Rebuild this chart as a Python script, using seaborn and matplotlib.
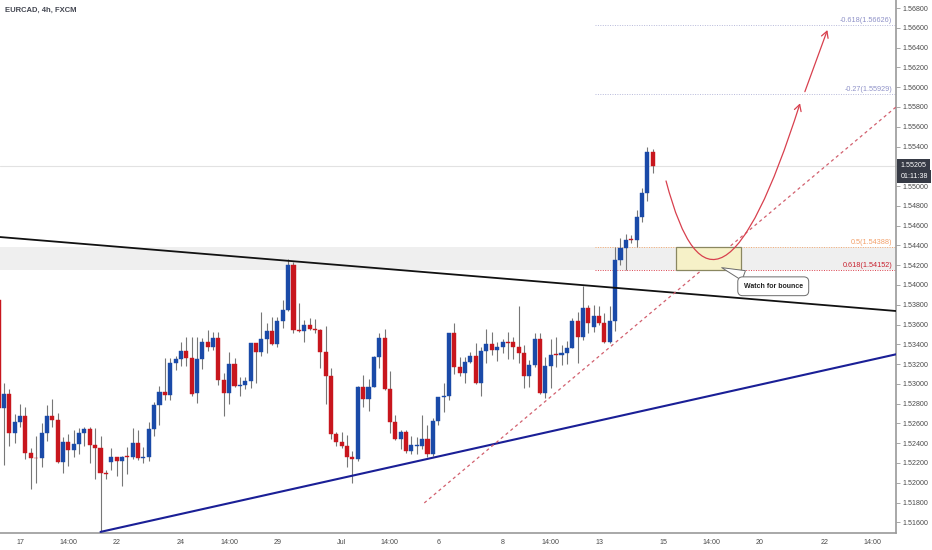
import matplotlib
matplotlib.use("Agg")
import numpy as np
import pandas as pd
import matplotlib.pyplot as plt
import seaborn as sns
from matplotlib.patches import Rectangle, FancyArrowPatch
from matplotlib.path import Path
from matplotlib.ticker import FormatStrFormatter

# --------- Velas EURCAD 4h ---------
opens = [1.53848, 1.52753, 1.52898, 1.52507, 1.52618, 1.52676, 1.52305, 1.52254, 1.52248, 1.52501,
         1.52676, 1.52635, 1.52214, 1.52413, 1.52332, 1.52390, 1.52501, 1.52547, 1.52382, 1.52349,
         1.52102, 1.52214, 1.52258, 1.52224, 1.52271, 1.52258, 1.52400, 1.52254, 1.52258, 1.52541,
         1.52784, 1.52915, 1.52885, 1.53214, 1.53249, 1.53333, 1.53259, 1.52905, 1.53249, 1.53424,
         1.53370, 1.53461, 1.53040, 1.52911, 1.53201, 1.52982, 1.52989, 1.53032, 1.53411, 1.53326,
         1.53451, 1.53538, 1.53404, 1.53636, 1.53747, 1.54202, 1.53545, 1.53538, 1.53596, 1.53552,
         1.53545, 1.53326, 1.53083, 1.52491, 1.52416, 1.52375, 1.52258, 1.52244, 1.52966, 1.52850,
         1.52972, 1.53275, 1.53467, 1.52946, 1.52618, 1.52440, 1.52514, 1.52325, 1.52375, 1.52375,
         1.52440, 1.52291, 1.52628, 1.52865, 1.52881, 1.53512, 1.53174, 1.53107, 1.53225, 1.53282,
         1.53006, 1.53336, 1.53404, 1.53343, 1.53376, 1.53427, 1.53427, 1.53376, 1.53310, 1.53080,
         1.53188, 1.53457, 1.52911, 1.53181, 1.53299, 1.53292, 1.53310, 1.53366, 1.53639, 1.53471,
         1.53764, 1.53578, 1.53687, 1.53619, 1.53427, 1.53639, 1.54253, 1.54371, 1.54465, 1.54455,
         1.54691, 1.54933, 1.55345]
highs = [1.53860, 1.53012, 1.52946, 1.52696, 1.52797, 1.52770, 1.52349, 1.52476, 1.52602, 1.52787,
         1.52844, 1.52709, 1.52466, 1.52494, 1.52534, 1.52551, 1.52561, 1.52561, 1.52551, 1.52473,
         1.52130, 1.52349, 1.52264, 1.52274, 1.52365, 1.52551, 1.52534, 1.52359, 1.52618, 1.52820,
         1.52979, 1.53259, 1.53259, 1.53282, 1.53427, 1.53471, 1.53471, 1.53471, 1.53461, 1.53545,
         1.53528, 1.53528, 1.53113, 1.53326, 1.53259, 1.53073, 1.53073, 1.53417, 1.53417, 1.53724,
         1.53619, 1.53680, 1.53680, 1.53848, 1.54260, 1.54236, 1.53821, 1.53646, 1.53663, 1.53653,
         1.53552, 1.53585, 1.53158, 1.52517, 1.52517, 1.52484, 1.52325, 1.52979, 1.53087, 1.53047,
         1.53282, 1.53512, 1.53552, 1.53134, 1.52686, 1.52534, 1.52534, 1.52473, 1.52466, 1.52686,
         1.52585, 1.52652, 1.52871, 1.53006, 1.53518, 1.53619, 1.53269, 1.53275, 1.53326, 1.53411,
         1.53376, 1.53552, 1.53522, 1.53427, 1.53451, 1.53528, 1.53471, 1.53788, 1.53393, 1.53242,
         1.53512, 1.53512, 1.53275, 1.53451, 1.53477, 1.53393, 1.53437, 1.53663, 1.53730, 1.53990,
         1.53798, 1.53798, 1.53788, 1.53714, 1.53788, 1.54387, 1.54472, 1.54516, 1.54506, 1.54758,
         1.54978, 1.55392, 1.55378]
lows = [1.52736, 1.52180, 1.52372, 1.52406, 1.52567, 1.52238, 1.51938, 1.52001, 1.52157, 1.52423,
        1.52567, 1.52197, 1.52096, 1.52170, 1.52264, 1.52291, 1.52372, 1.52203, 1.52036, 1.51503,
        1.52036, 1.52130, 1.52072, 1.51968, 1.52089, 1.52238, 1.52231, 1.52197, 1.52224, 1.52476,
        1.52585, 1.52837, 1.52837, 1.53141, 1.53181, 1.53181, 1.52880, 1.52810, 1.53148, 1.53336,
        1.53343, 1.52989, 1.52679, 1.52797, 1.52972, 1.52878, 1.52946, 1.52956, 1.53012, 1.53282,
        1.53310, 1.53393, 1.53376, 1.53562, 1.53737, 1.53512, 1.53528, 1.53427, 1.53545, 1.53512,
        1.53158, 1.52797, 1.52440, 1.52372, 1.52349, 1.52157, 1.51995, 1.52224, 1.52764, 1.52729,
        1.52966, 1.53158, 1.52938, 1.52507, 1.52433, 1.52339, 1.52298, 1.52291, 1.52291, 1.52339,
        1.52264, 1.52271, 1.52585, 1.52719, 1.52837, 1.53100, 1.53080, 1.53012, 1.53208, 1.52996,
        1.52878, 1.53208, 1.53292, 1.53235, 1.53310, 1.53249, 1.53249, 1.53214, 1.52956, 1.52972,
        1.53168, 1.52898, 1.52855, 1.52956, 1.53174, 1.53191, 1.53201, 1.53360, 1.53214, 1.53444,
        1.53512, 1.53528, 1.53596, 1.53417, 1.53411, 1.53538, 1.54202, 1.54152, 1.54422, 1.54381,
        1.54640, 1.54852, 1.55129]
closes = [1.52753, 1.52898, 1.52507, 1.52618, 1.52676, 1.52305, 1.52254, 1.52248, 1.52501, 1.52676,
          1.52635, 1.52214, 1.52413, 1.52332, 1.52390, 1.52501, 1.52547, 1.52382, 1.52349, 1.52102,
          1.52086, 1.52258, 1.52224, 1.52264, 1.52258, 1.52400, 1.52254, 1.52261, 1.52541, 1.52784,
          1.52915, 1.52885, 1.53214, 1.53249, 1.53333, 1.53259, 1.52898, 1.53249, 1.53424, 1.53370,
          1.53461, 1.53040, 1.52911, 1.53201, 1.52982, 1.52989, 1.53032, 1.53411, 1.53326, 1.53451,
          1.53538, 1.53404, 1.53636, 1.53747, 1.54202, 1.53545, 1.53532, 1.53596, 1.53552, 1.53542,
          1.53326, 1.53083, 1.52491, 1.52416, 1.52375, 1.52258, 1.52244, 1.52966, 1.52850, 1.52972,
          1.53275, 1.53467, 1.52946, 1.52618, 1.52440, 1.52514, 1.52325, 1.52379, 1.52382, 1.52440,
          1.52291, 1.52628, 1.52865, 1.52881, 1.53512, 1.53174, 1.53107, 1.53225, 1.53282, 1.53006,
          1.53336, 1.53404, 1.53343, 1.53376, 1.53421, 1.53417, 1.53376, 1.53310, 1.53080, 1.53188,
          1.53457, 1.52911, 1.53181, 1.53292, 1.53289, 1.53310, 1.53366, 1.53639, 1.53471, 1.53764,
          1.53619, 1.53687, 1.53619, 1.53427, 1.53639, 1.54253, 1.54371, 1.54455, 1.54455, 1.54691,
          1.54933, 1.55345, 1.55205]

# --------- Eje de tiempo (indice de vela) ---------
tick_bars = [4, 13, 22, 34, 43, 52, 64, 73, 82, 94, 103, 112, 124, 133, 142, 154, 163]
tick_labels = ["17", "14:00", "22", "24", "14:00", "29", "Jul", "14:00", "6",
               "8", "14:00", "13", "15", "14:00", "20", "22", "14:00"]
x_range = [0.25, 167.4]
y_range = [1.51492, 1.56882]
y_ticks = np.arange(1.516, 1.5681, 0.002)

# --------- Dibujos ---------
fib_ratios = ["-0.618", "-0.27", "0.5", "0.618"]
fib_prices = [1.56626, 1.55929, 1.54388, 1.54152]
fib_start = 111.3
resistencia = [(0.25, 1.54485), (167.4, 1.53737)]
soporte = [(19, 1.51503), (167.4, 1.53299)]
tendencia = [(79.4, 1.51796), (167.4, 1.55800)]
zona = [(126.3, 1.54152), (138.4, 1.54388)]
curva = [(124.5, 1.55052), (133.7, 1.53141), (149.5, 1.55837)]
flecha = [(150.4, 1.55955), (154.6, 1.56578)]
nota_texto = (144.5, 1.53987)
nota_punto = (134.4, 1.54185)
countdown = "01:11:38"

df = pd.DataFrame({"open": opens, "high": highs, "low": lows, "close": closes})
df["bar"] = np.arange(len(df))
df["up"] = df["close"] >= df["open"]

sns.set_style("white")
plt.rcParams["font.family"] = ["Liberation Sans", "DejaVu Sans"]

BLUE = "#1a4aa8"
RED = "#c8161d"
TXT = "#4a4a4a"

fig = plt.figure(figsize=(9.32, 5.5), dpi=100)
ax = fig.add_axes([0, 17 / 550, 896 / 932, 533 / 550])

# banda gris del retroceso
ax.axhspan(fib_prices[3], fib_prices[2], color="#efefef", zorder=0, lw=0)
ax.axhline(closes[-1], color="#e2e2e2", lw=0.8, zorder=0.5)

fib_colors = ["#b7b9da", "#b7b9da", "#f5a86e", "#d9404c"]
fib_text = ["#8f92c8", "#8f92c8", "#f2a06a", "#c8202e"]
for r, p, c, tc in zip(fib_ratios, fib_prices, fib_colors, fib_text):
    ax.hlines(p, fib_start, x_range[1], colors=c, lw=0.7, linestyles=(0, (1, 1.5)), zorder=1)
    ax.annotate(f"{r}({p:.5f})", xy=(x_range[1] - 0.7, p), xytext=(0, 0.8),
                textcoords="offset points", ha="right", va="bottom", fontsize=5.2, color=tc)

# velas
colors = np.where(df["up"], BLUE, RED)
ax.vlines(df["bar"], df["low"], df["high"], colors="#777777", lw=0.8, zorder=2)
ax.bar(df["bar"], df["close"] - df["open"], bottom=df["open"], width=0.76,
       color=colors, edgecolor=colors, lw=0.3, zorder=2.5)

# lineas de tendencia
sns.lineplot(x=[p[0] for p in resistencia], y=[p[1] for p in resistencia], ax=ax,
             color="#111111", lw=1.3, zorder=3)
sns.lineplot(x=[p[0] for p in soporte], y=[p[1] for p in soporte], ax=ax,
             color="#1a1f96", lw=1.5, zorder=3)
ax.plot([p[0] for p in tendencia], [p[1] for p in tendencia], color="#d2606e",
        lw=0.9, ls=(0, (2.5, 2.5)), zorder=3)

# zona de rebote
ax.add_patch(Rectangle((zona[0][0], zona[0][1]), zona[1][0] - zona[0][0], zona[1][1] - zona[0][1],
                       facecolor="#f6f1c8", edgecolor="#8a8760", lw=0.9, zorder=3.5))

# proyeccion
path = Path(curva, [Path.MOVETO, Path.CURVE3, Path.CURVE3])
ax.add_patch(FancyArrowPatch(path=path, arrowstyle="->,head_length=0.45,head_width=0.25",
                             mutation_scale=10, color="#d8404e", lw=0.9, zorder=4))
ax.add_patch(FancyArrowPatch(flecha[0], flecha[1], arrowstyle="->,head_length=0.45,head_width=0.25",
                             mutation_scale=10, color="#d8404e", lw=0.9, zorder=4,
                             shrinkA=0, shrinkB=0))

ax.annotate("Watch for bounce", xy=nota_punto, xytext=nota_texto, ha="center", va="center",
            fontsize=5, weight="bold", color="#222222", zorder=5,
            bbox=dict(boxstyle="round,pad=0.85,rounding_size=0.7", fc="white", ec="#6b6b6b", lw=0.7),
            arrowprops=dict(arrowstyle="wedge,tail_width=1.5", fc="white", ec="#6b6b6b", lw=0.7))

# ejes
ax.set_xlim(x_range)
ax.set_ylim(y_range)
ax.set_xticks(tick_bars, tick_labels)
ax.set_yticks(y_ticks)
ax.yaxis.set_major_formatter(FormatStrFormatter("%.5f"))
ax.yaxis.tick_right()
ax.tick_params(axis="both", labelsize=5.1, labelcolor=TXT, colors="#9a9a9a",
               length=3, width=0.6, direction="out", pad=1.5)
ax.tick_params(axis="both", labelcolor=TXT)
for s in ["left", "top"]:
    ax.spines[s].set_visible(False)
for s in ["right", "bottom"]:
    ax.spines[s].set_color("#9a9a9a")
    ax.spines[s].set_linewidth(1.2)

# etiqueta precio actual
ax.annotate(f"{closes[-1]:.5f}", xy=(1, closes[-1]), xycoords=("axes fraction", "data"),
            xytext=(3.2, 0), textcoords="offset points", ha="left", va="center",
            fontsize=5.1, color="white", zorder=6,
            bbox=dict(boxstyle="square,pad=0.45", fc="#363a45", ec="none"))
ax.annotate(countdown, xy=(1, closes[-1]), xycoords=("axes fraction", "data"),
            xytext=(3.2, -7.9), textcoords="offset points", ha="left", va="center",
            fontsize=5.1, color="white", zorder=6,
            bbox=dict(boxstyle="square,pad=0.45", fc="#363a45", ec="none"))

fig.text(5 / 932, 1 - 10 / 550, "EURCAD, 4h, FXCM", fontsize=5.5, weight="bold",
         color="#434651", va="center", ha="left")

fig.savefig("out.png", dpi=100)
